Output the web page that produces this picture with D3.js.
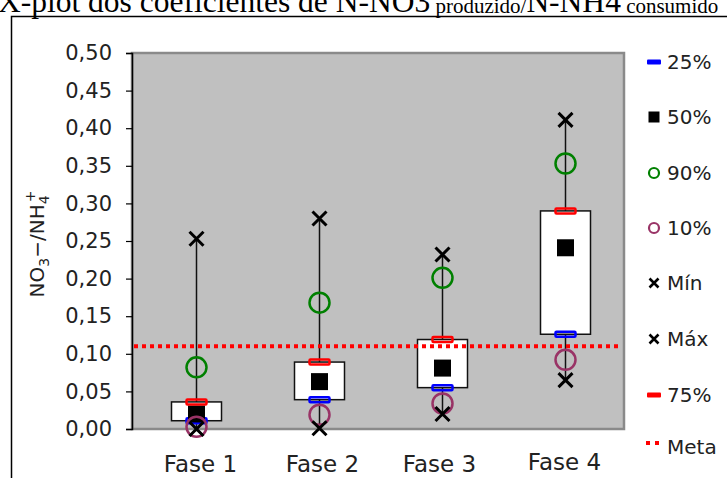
<!DOCTYPE html>
<html>
<head>
<meta charset="utf-8">
<script src="https://cdn.jsdelivr.net/npm/d3@7"></script>
<style>
  html, body { margin: 0; padding: 0; background: #fff; }
  svg { display: block; }
  text { font-family: "DejaVu Sans", "Liberation Sans", Arial, sans-serif; fill: #222; }
</style>
</head>
<body>
<svg id="chart" width="727" height="478"></svg>
<script>
// Phases and percentile statistics of the NO3-/NH4+ ratio
const categories = ["Fase 1", "Fase 2", "Fase 3", "Fase 4"];
const p25  = [0.011, 0.039, 0.055, 0.126];
const p50  = [0.020, 0.063, 0.081, 0.241];
const p75  = [0.036, 0.089, 0.119, 0.290];
const p90  = [0.082, 0.168, 0.201, 0.353];
const p10  = [0.003, 0.019, 0.034, 0.092];
const vMin = [0.000, 0.001, 0.020, 0.065];
const vMax = [0.253, 0.280, 0.232, 0.411];
const meta = 0.11;
const yTicks = [0, 0.05, 0.10, 0.15, 0.20, 0.25, 0.30, 0.35, 0.40, 0.45, 0.50];
const legendLabels = ["25%", "50%", "90%", "10%", "Mín", "Máx", "75%", "Meta"];

const svg = d3.select("#chart");
const W = 727, H = 478;

const plot = { left: 132, right: 624, top: 53, bottom: 429 };

const x = d3.scaleBand().domain(categories).range([135, 627]).paddingInner(0).paddingOuter(0);
const y = d3.scaleLinear().domain([0, 0.5]).range([plot.bottom, plot.top]);
const cx = d => x(d) + x.bandwidth() / 2;

const pt = d3.formatLocale({ decimal: ",", thousands: ".", grouping: [3], currency: ["", ""] }).format(".2f");

// Outer frame of the figure
svg.append("path")
  .attr("d", `M11.5,${H} L11.5,16.5 L${W},16.5`)
  .attr("fill", "none").attr("stroke", "#000").attr("stroke-width", 1.5);

// Title (runs past the edges of the figure)
const title = svg.append("text")
  .attr("x", -2).attr("y", 12)
  .style("font-family", "'Liberation Serif', 'Times New Roman', serif")
  .style("fill", "#000")
  .style("font-size", "31.5px");
title.append("tspan").text("X-plot dos coeficientes de N-NO");
title.append("tspan").text("3");
title.append("tspan").style("font-size", "21px").attr("dy", 1).text(" produzido/");
title.append("tspan").attr("dy", -1).text("N-NH");
title.append("tspan").text("4");
title.append("tspan").style("font-size", "21px").attr("dy", 1).text("  consumido");

// Plot area background
svg.append("rect")
  .attr("x", plot.left).attr("y", plot.top)
  .attr("width", plot.right - plot.left).attr("height", plot.bottom - plot.top)
  .attr("fill", "#c0c0c0").attr("stroke", "#8a8a8a").attr("stroke-width", 2.5);

// Y axis
const yAxis = d3.axisLeft(y).tickValues(yTicks).tickFormat(pt).tickSize(6).tickPadding(14);
const gy = svg.append("g").attr("transform", `translate(${plot.left},0)`).call(yAxis);
gy.select(".domain").attr("stroke", "#000").attr("stroke-width", 1.5);
gy.selectAll(".tick line").attr("stroke", "#000").attr("stroke-width", 1.2);
gy.selectAll(".tick text").style("font-size", "21px").style("font-family", "'DejaVu Sans', sans-serif").attr("fill", "#222");

// X axis labels
const labelShift = [4, 3, -3, -1];
svg.append("g").selectAll("text").data(categories).join("text")
  .attr("x", (d, i) => cx(d) + labelShift[i])
  .attr("y", (d, i) => i === 3 ? 470 : 472)
  .attr("text-anchor", "middle")
  .style("font-size", "23px")
  .text(d => d);

// Y axis title
const yt = svg.append("text")
  .attr("transform", "translate(44,244) rotate(-90)")
  .attr("text-anchor", "middle")
  .style("font-size", "20px");
yt.append("tspan").text("NO");
yt.append("tspan").attr("dy", 5).style("font-size", "14px").text("3");
yt.append("tspan").attr("dy", -5).text("−/NH");
yt.append("tspan").attr("dy", 5).style("font-size", "14px").text("4");
yt.append("tspan").attr("dy", -14).attr("dx", -7).style("font-size", "14px").text("+");

const idx = d3.range(categories.length);

// Whiskers from minimum to maximum
svg.append("g").selectAll("line").data(idx).join("line")
  .attr("x1", i => cx(categories[i])).attr("x2", i => cx(categories[i]))
  .attr("y1", i => y(vMin[i])).attr("y2", i => y(vMax[i]))
  .attr("stroke", "#111").attr("stroke-width", 1.5);

// Boxes between the 25th and 75th percentiles
const boxW = 50;
svg.append("g").selectAll("rect").data(idx).join("rect")
  .attr("x", i => cx(categories[i]) - boxW / 2)
  .attr("width", boxW)
  .attr("y", i => y(p75[i]))
  .attr("height", i => y(p25[i]) - y(p75[i]))
  .attr("fill", "#fff").attr("stroke", "#111").attr("stroke-width", 1.5);

// Target line
svg.append("line")
  .attr("x1", plot.left + 2).attr("x2", plot.right - 2)
  .attr("y1", y(meta)).attr("y2", y(meta))
  .attr("stroke", "#ff0000").attr("stroke-width", 4).attr("stroke-dasharray", "4,4");

// Marker helpers
function dash(g, px, py, color, w, h, filled) {
  g.append("rect").attr("x", px - w / 2).attr("y", py - h / 2).attr("width", w).attr("height", h)
    .attr("rx", 1)
    .attr("fill", filled ? color : "none").attr("stroke", color).attr("stroke-width", filled ? 0 : 2.5);
}
function square(g, px, py, s) {
  g.append("rect").attr("x", px - s / 2).attr("y", py - s / 2).attr("width", s).attr("height", s).attr("fill", "#000");
}
function ring(g, px, py, r, color, sw) {
  g.append("circle").attr("cx", px).attr("cy", py).attr("r", r).attr("fill", "none").attr("stroke", color).attr("stroke-width", sw);
}
function cross(g, px, py, s, sw) {
  g.append("path").attr("d", `M${px - s},${py - s}L${px + s},${py + s}M${px - s},${py + s}L${px + s},${py - s}`)
    .attr("stroke", "#000").attr("stroke-width", sw).attr("fill", "none");
}

const GREEN = "#008000", PLUM = "#993366", BLUE = "#0000ff", RED = "#ff0000";
const marks = svg.append("g");
idx.forEach(i => {
  const px = cx(categories[i]);
  dash(marks, px, y(p25[i]), BLUE, 20, 5, false);
  square(marks, px, y(p50[i]), 17);
  ring(marks, px, y(p90[i]), 10, GREEN, 2.5);
  ring(marks, px, y(p10[i]), 10, PLUM, 2.5);
  cross(marks, px, y(vMin[i]), 7, 3);
  cross(marks, px, y(vMax[i]), 7, 3);
  dash(marks, px, y(p75[i]), RED, 20, 5, false);
});

// Legend
const legY = [62, 117, 173, 228, 283, 339, 395, 447];
const lg = svg.append("g");
legendLabels.forEach((lab, k) => {
  const ly = legY[k];
  const mx = 654;
  if (k === 0) dash(lg, mx, ly, BLUE, 14, 5, true);
  if (k === 1) square(lg, mx, ly, 11);
  if (k === 2) ring(lg, mx, ly, 5, GREEN, 2.2);
  if (k === 3) ring(lg, mx, ly, 5, PLUM, 2.2);
  if (k === 4 || k === 5) cross(lg, mx, ly, 4.5, 2.6);
  if (k === 6) dash(lg, mx, ly, RED, 14, 5, true);
  if (k === 7) {
    lg.append("line").attr("x1", 646).attr("x2", 662).attr("y1", ly - 4).attr("y2", ly - 4)
      .attr("stroke", RED).attr("stroke-width", 4).attr("stroke-dasharray", "4,5");
  }
  lg.append("text").attr("x", 667).attr("y", ly + 7).style("font-size", "20px").text(lab);
});
</script>
</body>
</html>
